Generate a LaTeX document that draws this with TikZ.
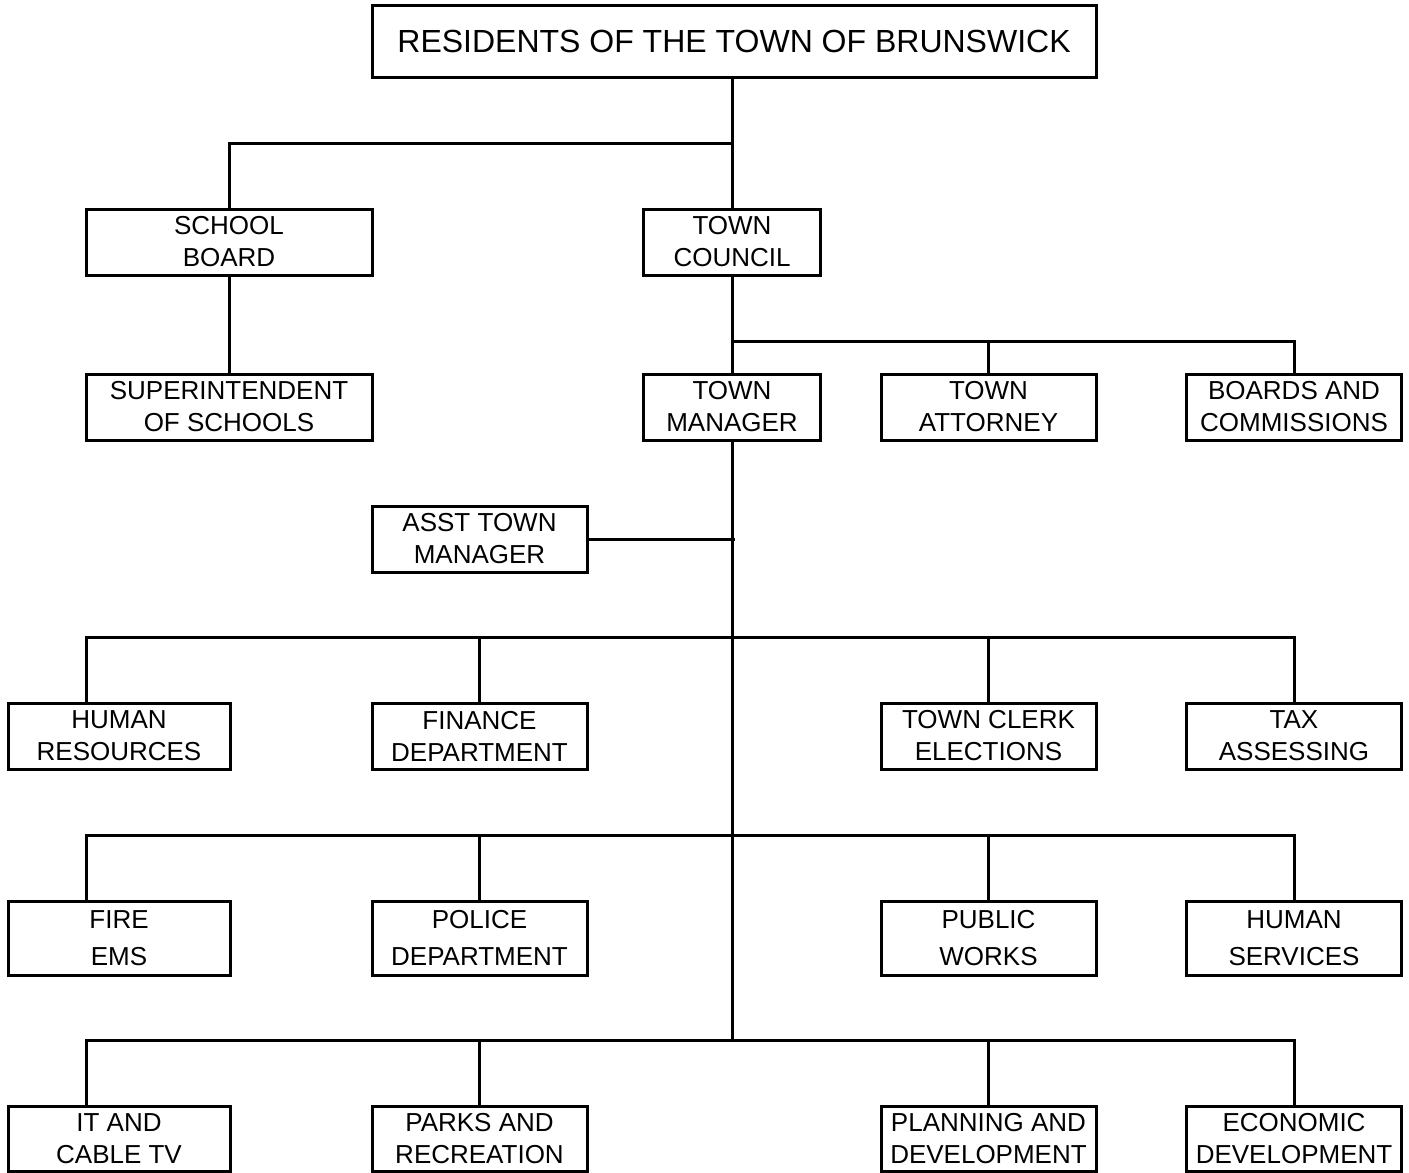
\documentclass[tikz,border=0pt]{standalone}
\usepackage{fontspec}
\setmainfont{Liberation Sans}
\usetikzlibrary{positioning}

\begin{document}
\begin{tikzpicture}[
  x=0.5pt,y=-0.5pt,
  office/.style={draw,line width=1.5pt,inner sep=0pt,align=center,
    minimum height=33pt,font=\fontsize{13}{16}\selectfont},
  narrow/.style={minimum width=88.5pt},
  wide/.style={minimum width=107.5pt},
  wider/.style={minimum width=111pt},
  widest/.style={minimum width=143pt},
  tall/.style={minimum height=37pt,font=\fontsize{13}{18.5}\selectfont},
  link/.style={line width=1.5pt}
]
  \useasboundingbox (0,0) rectangle (1409,1173);

  % top levels
  \node[office,minimum width=362pt,minimum height=36pt,font=\fontsize{16}{19}\selectfont] (residents) at (734,41) {RESIDENTS OF THE TOWN OF BRUNSWICK};
  \node[office,widest] (board) at (229,242) {SCHOOL\\BOARD};
  \node[office,narrow] (council) at (732,242) {TOWN\\COUNCIL};
  \node[office,widest] (super) at (229,407) {SUPERINTENDENT\\OF SCHOOLS};
  \node[office,narrow] (manager) at (732,407) {TOWN\\MANAGER};
  \node[office,wide] (attorney) at (988.5,407) {TOWN\\ATTORNEY};
  \node[office,wide] (boards) at (1294,407) {BOARDS AND\\COMMISSIONS};
  \node[office,wide] (asst) at (479.5,539) {ASST TOWN\\MANAGER};

  % departments
  \node[office,wider] (hr) at (119,736) {HUMAN\\RESOURCES};
  \node[office,wide] (finance) at (479.5,736) {FINANCE\\DEPARTMENT};
  \node[office,wide] (clerk) at (988.5,736) {TOWN CLERK\\ELECTIONS};
  \node[office,wide] (tax) at (1294,736) {TAX\\ASSESSING};

  \node[office,wider,tall] (fire) at (119,938) {FIRE\\EMS};
  \node[office,wide,tall] (police) at (479.5,938) {POLICE\\DEPARTMENT};
  \node[office,wide,tall] (works) at (988.5,938) {PUBLIC\\WORKS};
  \node[office,wide,tall] (services) at (1294,938) {HUMAN\\SERVICES};

  \node[office,wider,minimum height=32.5pt] (it) at (119,1138.5) {IT AND\\CABLE TV};
  \node[office,wide,minimum height=32.5pt] (parks) at (479.5,1138.5) {PARKS AND\\RECREATION};
  \node[office,wide,minimum height=32.5pt] (planning) at (988.5,1138.5) {PLANNING AND\\DEVELOPMENT};
  \node[office,wide,minimum height=32.5pt] (economic) at (1294,1138.5) {ECONOMIC\\DEVELOPMENT};

  % junctions
  \coordinate (resbus) at (732,143);
  \coordinate (councilbus) at (732,341);
  \coordinate (busa) at (732,637);
  \coordinate (busb) at (732,835);
  \coordinate (busc) at (732,1040);

  \draw[link] (residents.south -| council) -- (council.north);
  \draw[link] (board.north) |- (resbus);
  \draw[link] (board.south) -- (super.north);
  \draw[link] (council.south) -- (manager.north);
  \draw[link] (attorney.north) |- (councilbus);
  \draw[link] (boards.north) |- (councilbus);
  \draw[link] (manager.south) -- (busc);
  \draw[link] (asst.east) -- ([xshift=1.5pt]asst.east -| manager);

  \draw[link] ([xshift=-16.5pt]hr.north) |- (busa);
  \draw[link] (finance.north) |- (busa);
  \draw[link] (clerk.north) |- (busa);
  \draw[link] (tax.north) |- (busa);

  \draw[link] ([xshift=-16.5pt]fire.north) |- (busb);
  \draw[link] (police.north) |- (busb);
  \draw[link] (works.north) |- (busb);
  \draw[link] (services.north) |- (busb);

  \draw[link] ([xshift=-16.5pt]it.north) |- (busc);
  \draw[link] (parks.north) |- (busc);
  \draw[link] (planning.north) |- (busc);
  \draw[link] (economic.north) |- (busc);
\end{tikzpicture}
\end{document}
